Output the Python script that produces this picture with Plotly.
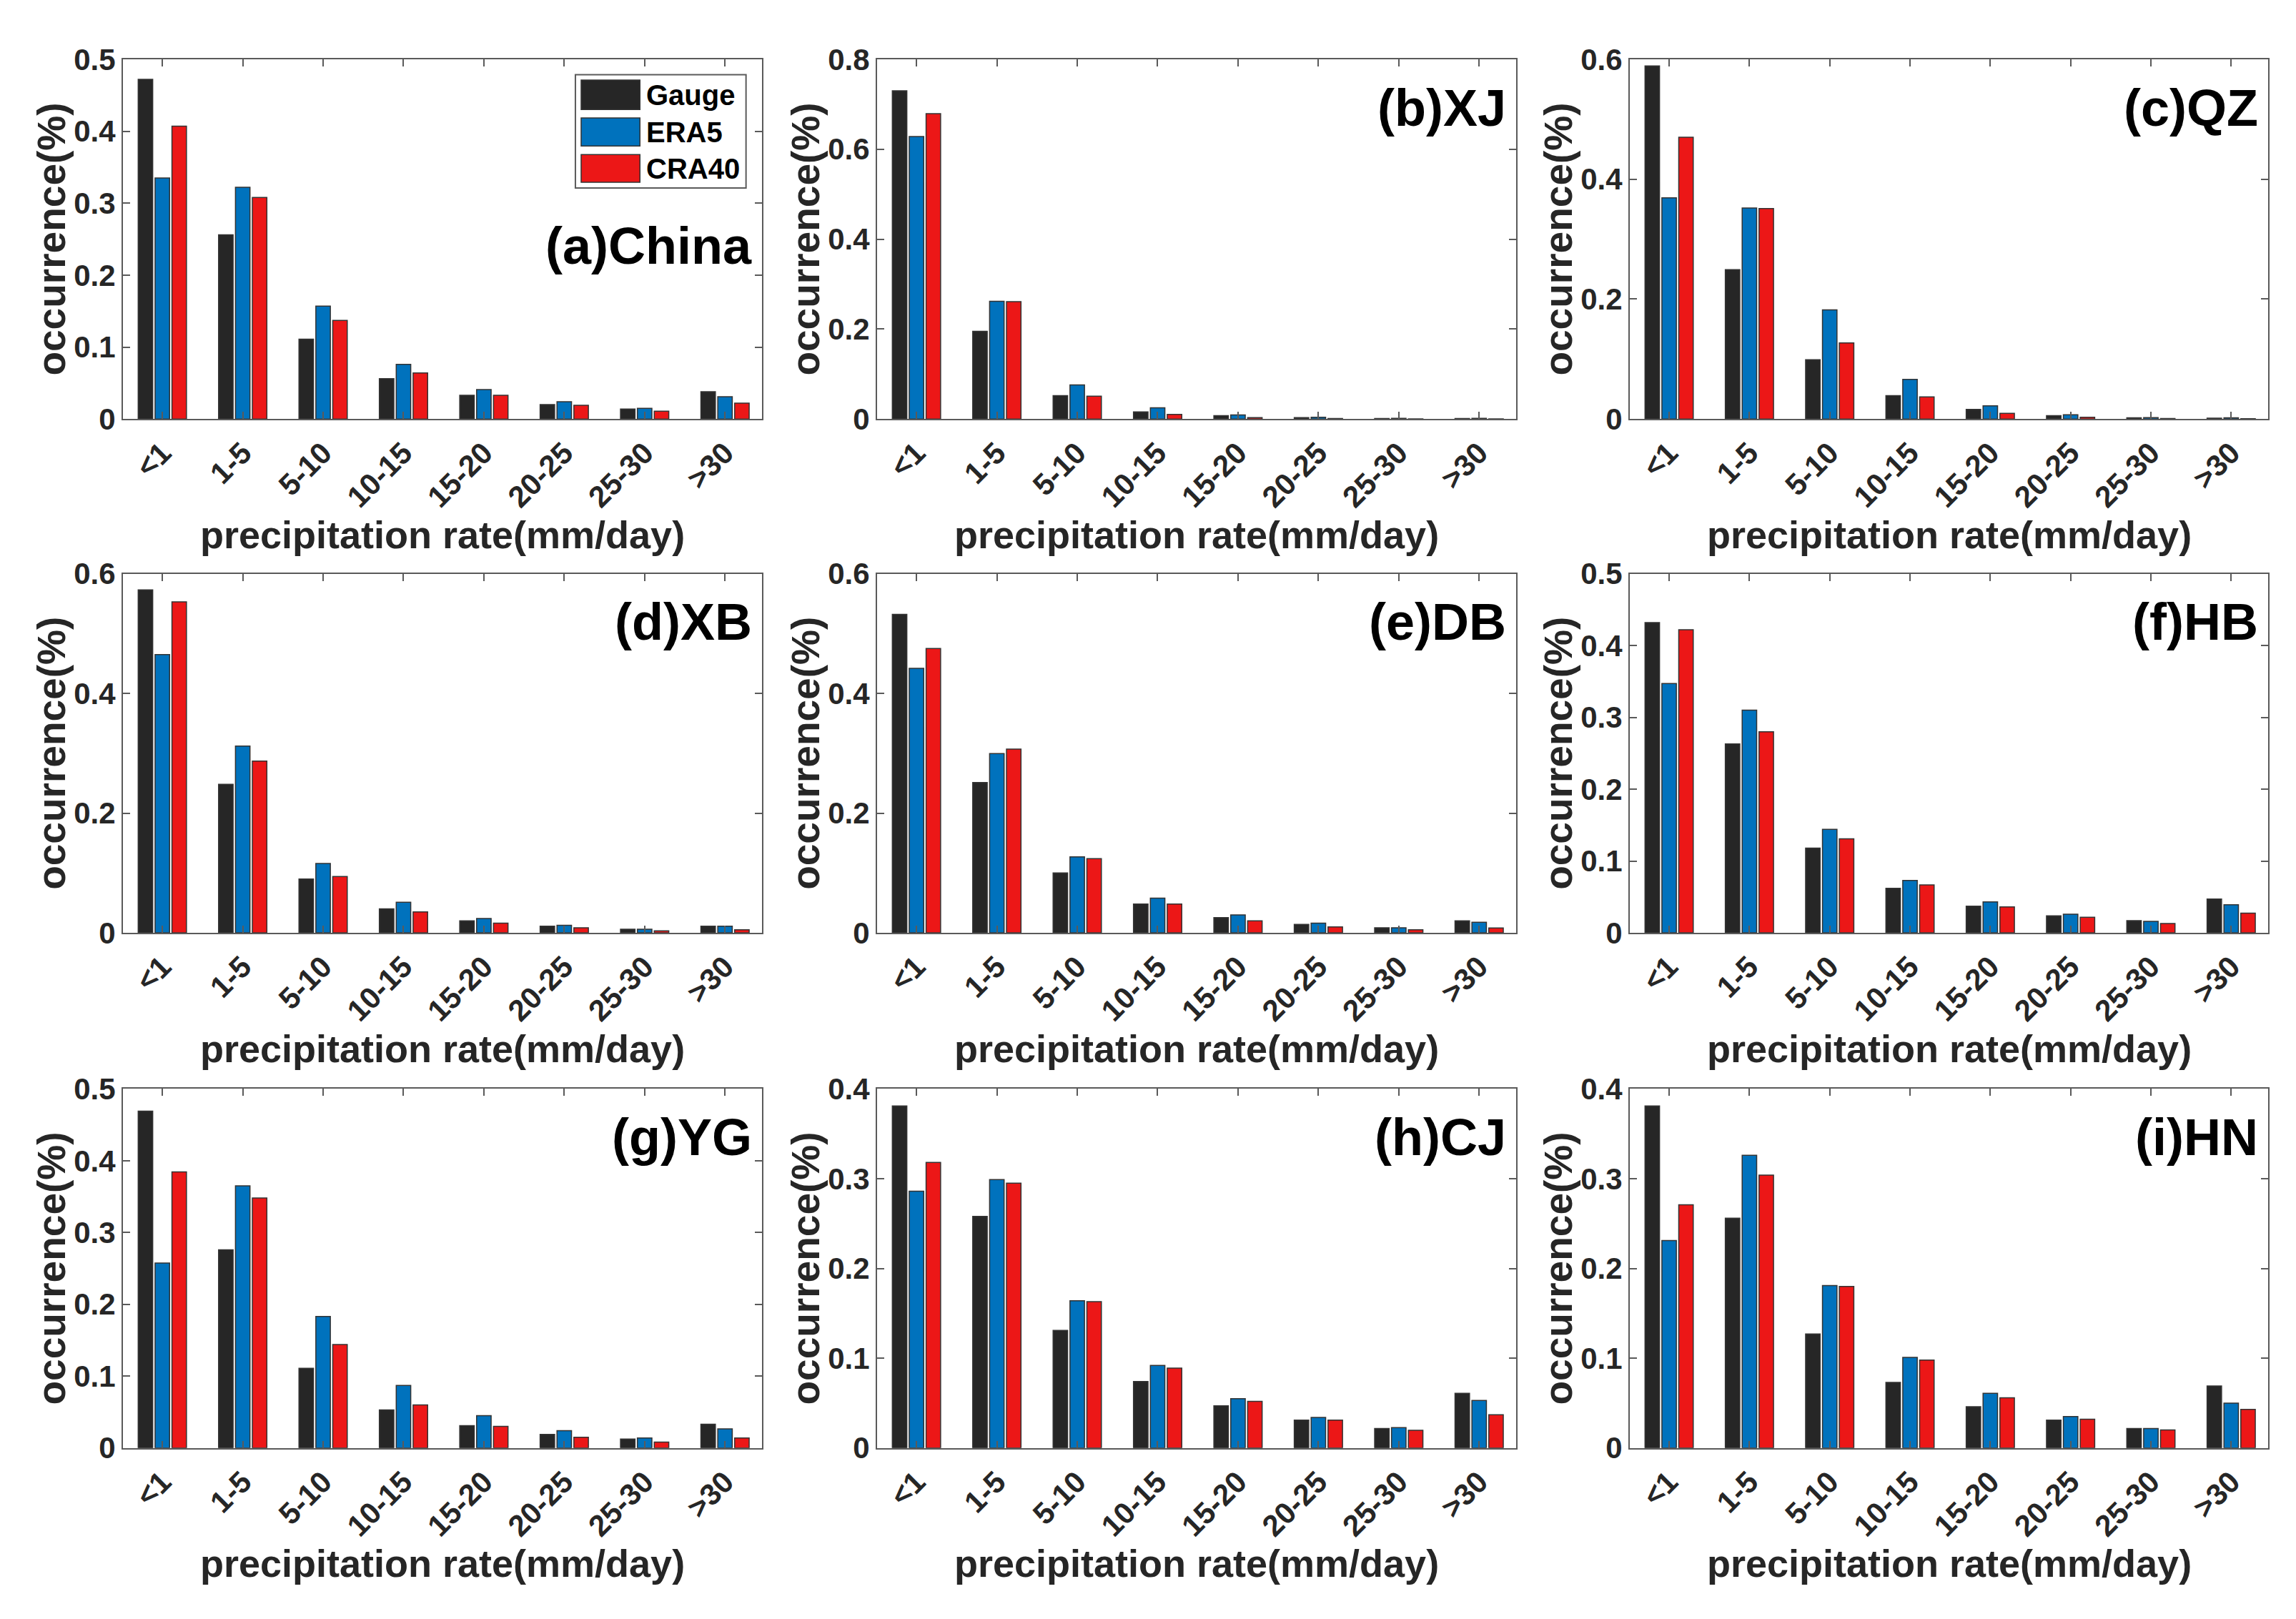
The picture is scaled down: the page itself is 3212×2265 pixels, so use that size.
import plotly.graph_objects as go

# ---------------- data ----------------
categories = ["<1", "1-5", "5-10", "10-15", "15-20", "20-25", "25-30", ">30"]
series_names = ["Gauge", "ERA5", "CRA40"]
series_colors = ["#262626", "#0072BD", "#EC1717"]

panel_titles = ["(a)China", "(b)XJ", "(c)QZ", "(d)XB", "(e)DB", "(f)HB", "(g)YG", "(h)CJ", "(i)HN"]
y_max = [0.5, 0.8, 0.6, 0.6, 0.6, 0.5, 0.5, 0.4, 0.4]
y_step = [0.1, 0.2, 0.2, 0.2, 0.2, 0.1, 0.1, 0.1, 0.1]

china_gauge = [0.472, 0.256, 0.111, 0.056, 0.033, 0.020, 0.014, 0.038]
china_era5 = [0.335, 0.322, 0.157, 0.076, 0.041, 0.024, 0.015, 0.031]
china_cra40 = [0.407, 0.308, 0.137, 0.064, 0.033, 0.019, 0.011, 0.022]

xj_gauge = [0.730, 0.195, 0.052, 0.016, 0.0075, 0.003, 0.0012, 0.001]
xj_era5 = [0.628, 0.262, 0.076, 0.025, 0.009, 0.004, 0.0015, 0.0015]
xj_cra40 = [0.679, 0.261, 0.051, 0.0105, 0.003, 0.001, 0.0005, 0.0005]

qz_gauge = [0.589, 0.249, 0.099, 0.039, 0.016, 0.0056, 0.002, 0.0015]
qz_era5 = [0.369, 0.352, 0.182, 0.066, 0.022, 0.007, 0.0025, 0.002]
qz_cra40 = [0.470, 0.351, 0.127, 0.037, 0.0096, 0.003, 0.001, 0.0005]

xb_gauge = [0.573, 0.248, 0.090, 0.040, 0.020, 0.011, 0.006, 0.011]
xb_era5 = [0.465, 0.312, 0.116, 0.051, 0.024, 0.0125, 0.006, 0.011]
xb_cra40 = [0.553, 0.287, 0.094, 0.035, 0.016, 0.0085, 0.0034, 0.005]

db_gauge = [0.532, 0.251, 0.100, 0.048, 0.0255, 0.014, 0.0085, 0.020]
db_era5 = [0.442, 0.2995, 0.127, 0.058, 0.030, 0.016, 0.0085, 0.0176]
db_cra40 = [0.475, 0.307, 0.124, 0.048, 0.020, 0.010, 0.005, 0.008]

hb_gauge = [0.432, 0.263, 0.118, 0.062, 0.037, 0.0236, 0.017, 0.047]
hb_era5 = [0.347, 0.310, 0.144, 0.073, 0.043, 0.026, 0.016, 0.039]
hb_cra40 = [0.422, 0.280, 0.131, 0.0666, 0.036, 0.0217, 0.013, 0.0274]

yg_gauge = [0.469, 0.276, 0.111, 0.053, 0.031, 0.019, 0.0125, 0.033]
yg_era5 = [0.2575, 0.365, 0.183, 0.087, 0.045, 0.024, 0.014, 0.0265]
yg_cra40 = [0.3845, 0.348, 0.144, 0.060, 0.030, 0.015, 0.0082, 0.014]

cj_gauge = [0.381, 0.258, 0.131, 0.074, 0.047, 0.031, 0.0216, 0.061]
cj_era5 = [0.286, 0.299, 0.164, 0.092, 0.055, 0.034, 0.0227, 0.053]
cj_cra40 = [0.318, 0.295, 0.163, 0.089, 0.052, 0.031, 0.0196, 0.037]

hn_gauge = [0.381, 0.256, 0.127, 0.073, 0.046, 0.031, 0.0216, 0.069]
hn_era5 = [0.231, 0.326, 0.181, 0.101, 0.061, 0.035, 0.0216, 0.050]
hn_cra40 = [0.271, 0.304, 0.180, 0.098, 0.056, 0.032, 0.020, 0.043]

panels = [
    [china_gauge, china_era5, china_cra40],
    [xj_gauge, xj_era5, xj_cra40],
    [qz_gauge, qz_era5, qz_cra40],
    [xb_gauge, xb_era5, xb_cra40],
    [db_gauge, db_era5, db_cra40],
    [hb_gauge, hb_era5, hb_cra40],
    [yg_gauge, yg_era5, yg_cra40],
    [cj_gauge, cj_era5, cj_cra40],
    [hn_gauge, hn_era5, hn_cra40],
]

# ---------------- layout geometry ----------------
W, H = 3212, 2265
col_px = [(164, 1058), (1219, 2113), (2272, 3165)]
row_px = [(53, 567), (788, 1301), (1524, 2037)]

FONT = "Liberation Sans, Arial, Helvetica, sans-serif"
AXCOL = "#5a5a5a"
TXT = "#262626"

fig = go.Figure()
annotations = []
shapes = []
layout = {}

for p in range(9):
    r, c = divmod(p, 3)
    n = p + 1
    xname = "x" if n == 1 else f"x{n}"
    yname = "y" if n == 1 else f"y{n}"
    for s in range(3):
        fig.add_trace(go.Bar(
            x=categories, y=panels[p][s], name=series_names[s],
            marker=dict(color=series_colors[s], line=dict(color="#333333", width=1.5)),
            xaxis=xname, yaxis=yname, showlegend=False,
        ))
    x0, x1 = col_px[c]
    y0, y1 = row_px[r]
    xdom = [x0 / W, x1 / W]
    ydom = [1 - y1 / H, 1 - y0 / H]
    ticks = []
    v = 0.0
    while v <= y_max[p] + 1e-9:
        ticks.append(round(v, 3))
        v += y_step[p]
    layout["xaxis" if n == 1 else f"xaxis{n}"] = dict(
        domain=xdom, anchor=yname, type="category",
        categoryorder="array", categoryarray=categories,
        range=[-0.49, 7.46],
        showline=True, linecolor=AXCOL, linewidth=2, mirror="ticks",
        ticks="inside", ticklen=10, tickwidth=2, tickcolor=AXCOL,
        tickangle=-45, ticklabelstandoff=4,
        tickfont=dict(family=FONT, size=42, color=TXT, weight="bold"),
        showgrid=False, zeroline=False, fixedrange=True,
    )
    layout["yaxis" if n == 1 else f"yaxis{n}"] = dict(
        domain=ydom, anchor=xname, range=[0, y_max[p]],
        tickvals=ticks, ticktext=[("0" if t == 0 else f"{t:g}") for t in ticks],
        showline=True, linecolor=AXCOL, linewidth=2, mirror="ticks",
        ticks="inside", ticklen=10, tickwidth=2, tickcolor=AXCOL,
        tickfont=dict(family=FONT, size=42, color=TXT, weight="bold"),
        showgrid=False, zeroline=False, fixedrange=True,
    )
    pw = x1 - x0
    ph = y1 - y0
    # panel label
    annotations.append(dict(
        text=f"<b>{panel_titles[p]}</b>", xref=f"{xname} domain", yref=f"{yname} domain",
        x=1 - 12 / pw, y=(0.481 if p == 0 else 0.865), xanchor="right", yanchor="middle",
        showarrow=False, font=dict(family=FONT, size=72, color="#000000"),
    ))
    # axis titles
    annotations.append(dict(
        text="<b>occurrence(%)</b>", xref=f"{xname} domain", yref=f"{yname} domain",
        x=-100 / pw, y=0.5, xanchor="center", yanchor="middle", textangle=-90,
        showarrow=False, font=dict(family=FONT, size=55, color=TXT),
    ))
    annotations.append(dict(
        text="<b>precipitation rate(mm/day)</b>", xref=f"{xname} domain", yref=f"{yname} domain",
        x=0.5, y=-165 / ph, xanchor="center", yanchor="middle",
        showarrow=False, font=dict(family=FONT, size=54, color=TXT),
    ))

# manual legend in panel (a)
shapes.append(dict(type="rect", xref="x domain", yref="y domain",
                   x0=0.708, x1=0.975, y0=0.642, y1=0.957,
                   line=dict(color=AXCOL, width=2), fillcolor="white", layer="above"))
rows_y = [(0.860, 0.942), (0.759, 0.837), (0.658, 0.735)]
for s in range(3):
    ya, yb = rows_y[s]
    shapes.append(dict(type="rect", xref="x domain", yref="y domain",
                       x0=0.717, x1=0.809, y0=ya, y1=yb,
                       line=dict(color="#333333", width=1.5), fillcolor=series_colors[s],
                       layer="above"))
    annotations.append(dict(
        text=f"<b>{series_names[s]}</b>", xref="x domain", yref="y domain",
        x=0.817, y=(ya + yb) / 2, xanchor="left", yanchor="middle",
        showarrow=False, font=dict(family=FONT, size=40, color="#000000"),
    ))

fig.update_layout(
    width=W, height=H, autosize=False,
    margin=dict(l=0, r=0, t=0, b=0),
    paper_bgcolor="white", plot_bgcolor="white",
    barmode="group", bargap=0.37, bargroupgap=0.14,
    annotations=annotations, shapes=shapes,
    **layout,
)

fig.write_html("out.html")
